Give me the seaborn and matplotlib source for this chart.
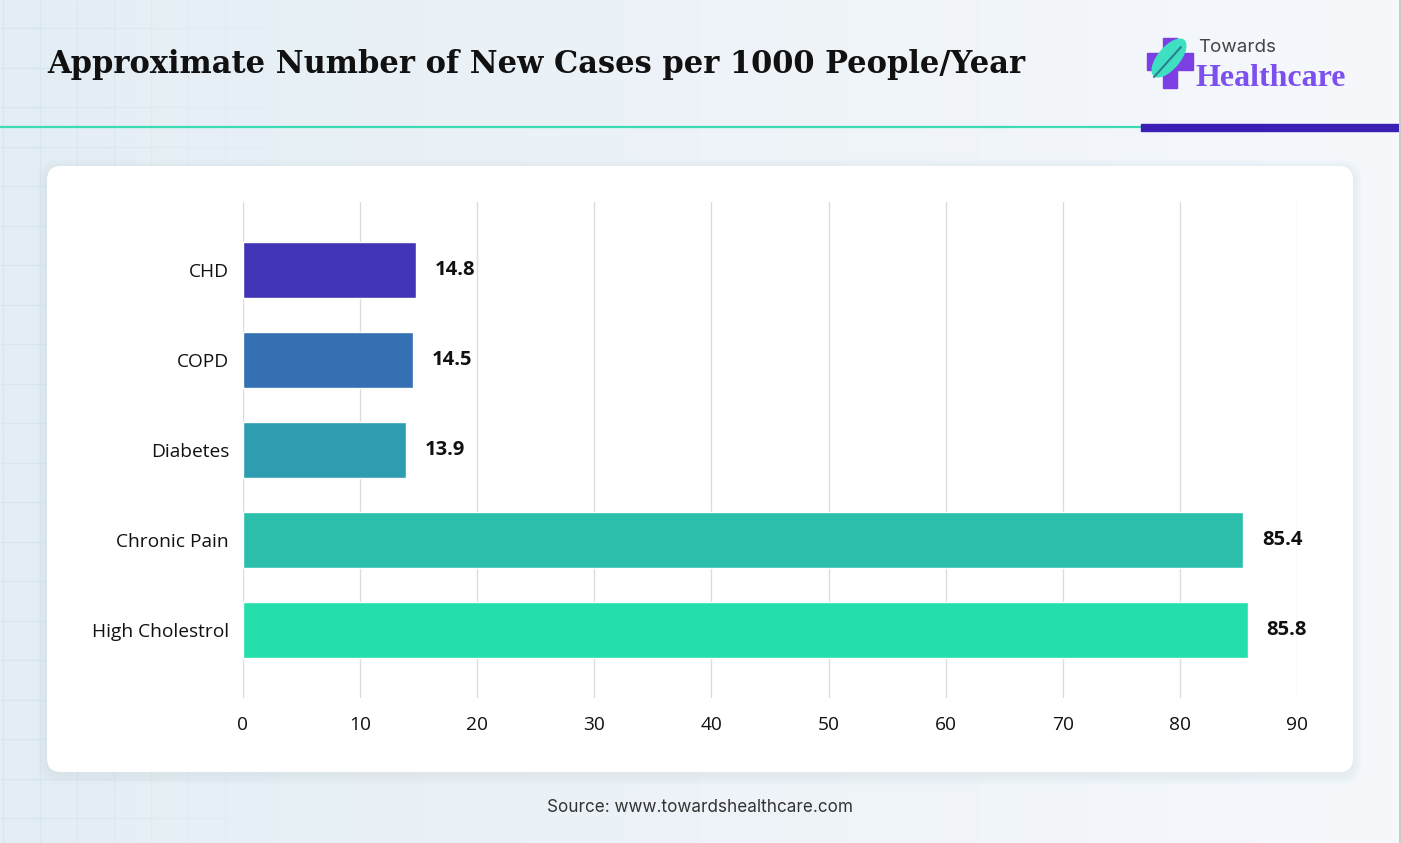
import numpy as np
import pandas as pd
import matplotlib.pyplot as plt
import seaborn as sns
from matplotlib.patches import FancyBboxPatch, Rectangle, Ellipse
from matplotlib.colors import LinearSegmentedColormap

# chart data
categories = ['CHD', 'COPD', 'Diabetes', 'Chronic Pain', 'High Cholestrol']
values = [14.8, 14.5, 13.9, 85.4, 85.8]
bar_colors = ['#4234b6', '#3470b2', '#2e9db0', '#2bbfab', '#24dfac']
x_ticks = [0, 10, 20, 30, 40, 50, 60, 70, 80, 90]

df = pd.DataFrame({'condition': categories, 'cases': values})

sns.set_theme(style='white')
plt.rcParams['font.family'] = ['Open Sans', 'DejaVu Sans']

W, H = 1401, 843
fig = plt.figure(figsize=(W / 100, H / 100), dpi=100)

# background layer in pixel coordinates
bg = fig.add_axes([0, 0, 1, 1], zorder=-10)
bg.set_xlim(0, W)
bg.set_ylim(H, 0)
bg.axis('off')
grad = np.linspace(0, 1, 256)[None, :]
bg_cmap = LinearSegmentedColormap.from_list('bg', ['#e3eef4', '#edf3f8', '#f6f8fc'])
bg.imshow(grad, extent=[0, W, H, 0], aspect='auto', cmap=bg_cmap, zorder=0)

# faint grid on the left side
for i, gx in enumerate(np.arange(3, 300, 37)):
    bg.plot([gx, gx], [0, H], color='#d3e2ea', lw=1, alpha=max(0, 0.6 - i * 0.08), zorder=1)
for gy in np.arange(28, H, 39.5):
    for i, x0 in enumerate(np.arange(0, 300, 37)):
        bg.plot([x0, x0 + 37], [gy, gy], color='#d3e2ea', lw=1, alpha=max(0, 0.6 - i * 0.08), zorder=1)

# header rules
bg.plot([0, 1141], [127, 127], color='#3ddbb3', lw=1.6, zorder=2)
bg.add_patch(Rectangle((1141, 123.5), W - 1141, 7, color='#3b1fb5', zorder=2))
bg.plot([W - 1, W - 1], [0, H], color='#cccccc', lw=1.5, zorder=2)

# card with soft shadow
for k in range(10, 0, -1):
    bg.add_patch(FancyBboxPatch((47 - k, 166 - k + 3), 1306 + 2 * k, 606 + 2 * k,
                                boxstyle='round,pad=0,rounding_size=%d' % (14 + k),
                                facecolor='#b8c4d0', edgecolor='none', alpha=0.02, zorder=3))
bg.add_patch(FancyBboxPatch((47, 166), 1306, 606, boxstyle='round,pad=0,rounding_size=14',
                            facecolor='white', edgecolor='none', zorder=4))

# title
fig.text(47 / W, 1 - 65 / H, 'Approximate Number of New Cases per 1000 People/Year',
         family=['DejaVu Serif'], fontweight='bold', fontsize=22, color='#111111',
         va='center', ha='left')

# logo
bg.add_patch(Rectangle((1163, 38), 14, 50, color='#7b3fe4', zorder=5))
bg.add_patch(Rectangle((1147, 53), 46, 17, color='#7b3fe4', zorder=5))
bg.add_patch(Ellipse((1169, 58), 21, 46, angle=40, color='#3fe0c2', zorder=6))
bg.plot([1154, 1181], [77, 47], color='#2a7f8f', lw=1.5, zorder=7)
fig.text(1198 / W, 1 - 47 / H, 'Towards', fontsize=13.5, color='#444444',
         family=['Inter', 'DejaVu Sans'], va='center', ha='left')
fig.text(1196 / W, 1 - 78 / H, 'Healthcare', fontsize=23, color='#7b4ff0', fontweight='bold',
         family=['Liberation Serif'], va='center', ha='left')

# source
fig.text(700 / W, 1 - 808 / H, 'Source: www.towardshealthcare.com', fontsize=12.3,
         color='#333333', family=['Inter', 'DejaVu Sans'], ha='center', va='center')

# bar chart
top, bottom = 202, 698
ax = fig.add_axes([243 / W, 1 - bottom / H, (1297 - 243) / W, (bottom - top) / H], zorder=5)
ax.patch.set_alpha(0)
sns.barplot(data=df, x='cases', y='condition', hue='condition', palette=bar_colors,
            legend=False, width=0.62, orient='h', saturation=1, ax=ax, zorder=3)
ax.set_xlim(0, 90)
ax.set_ylim(4.756, -0.756)
ax.set_xticks(x_ticks)
ax.xaxis.grid(True, color='#dcdcdc', lw=1)
ax.set_axisbelow(True)
for s in ax.spines.values():
    s.set_visible(False)
ax.set_xlabel('')
ax.set_ylabel('')
ax.tick_params(axis='both', length=0, labelsize=13.8, colors='#111111')
ax.tick_params(axis='y', pad=10)
ax.tick_params(axis='x', pad=13)
for i, v in enumerate(values):
    ax.text(v + 1.6, i, f'{v}', va='center', ha='left', fontsize=14.5, fontweight='bold',
            color='#111111', zorder=4)

plt.savefig('out.png', dpi=100)
